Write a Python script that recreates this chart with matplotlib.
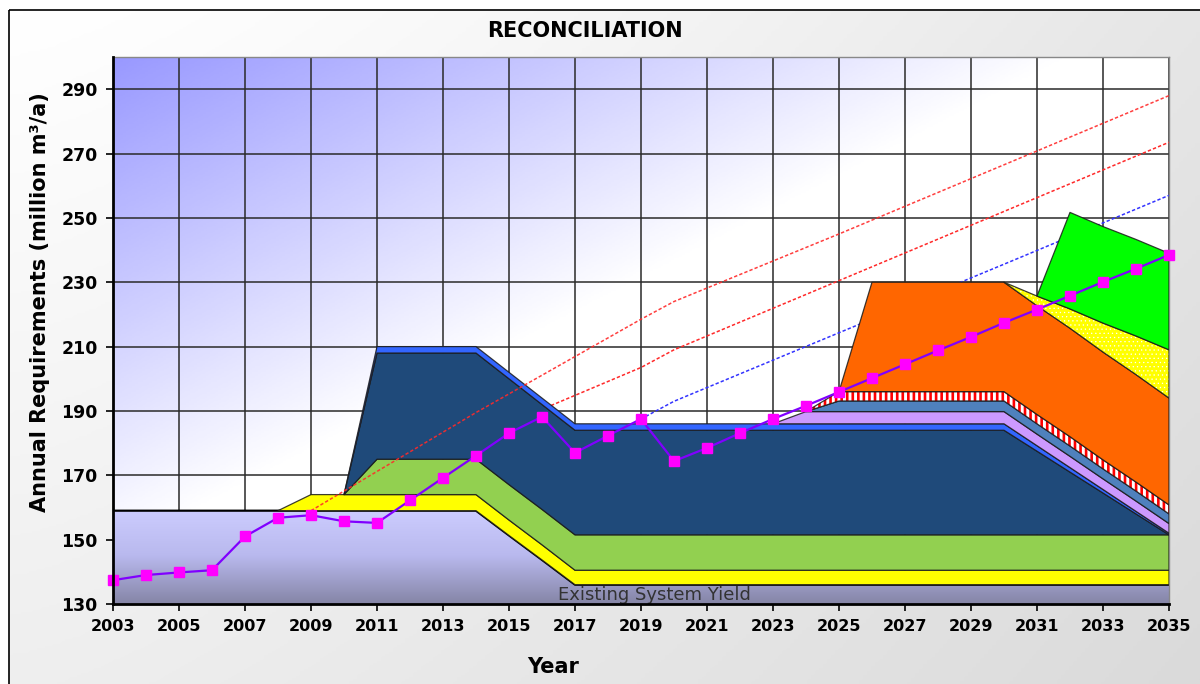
import numpy as np
import matplotlib.pyplot as plt
from matplotlib.colors import LinearSegmentedColormap
from matplotlib.patches import Rectangle

# ---- data ----
years = list(range(2003, 2036))

demand = [137.4, 139.0, 139.8, 140.5, 151.0, 156.8, 157.6, 155.7, 155.2, 162.2,
          169.2, 176.1, 183.1, 188.2, 177.0, 182.3, 187.5, 174.4, 178.5, 183.1,
          187.5, 191.6, 195.9, 200.2, 204.5, 208.8, 213.0, 217.4, 221.5, 225.8,
          230.1, 234.2, 238.5]

existing = [159] * 12 + [151.3, 143.7] + [136] * 19
yellow_band = [0] * 6 + [5] * 6 + [4.8, 4.7] + [4.5] * 19
green_band = [0] * 8 + [11] * 25
navy_band = [0] * 8 + [33, 33, 33, 33, 32.9, 32.6] + [32.5] * 14 + [26, 19.5, 13, 6.5, 0]
blue_band = [0] * 8 + [2] * 20 + [1.7, 1.4, 1.1, 0.8, 0.5]
lavender_band = [0] * 21 + [3.8] * 7 + [3.6, 3.5, 3.3, 3.2, 3.0]
steel_band = [0] * 22 + [3.3] * 6 + [3.2, 3.2, 3.1, 3.1, 3.0]
hatch_band = [0] * 22 + [2.9] * 6 + [2.9, 2.9, 2.8, 2.8, 2.8]
orange_band = [0] * 23 + [34] * 5 + [33.8, 33.7, 33.5, 33.4, 33.2]
dotted_band = [0] * 28 + [3, 6, 9, 12, 15]
lime_band = [0] * 29 + [30] * 4

high_years = [2009, 2014, 2019, 2020, 2025, 2030, 2035]
high_vals = [159, 189.5, 218.5, 224, 245, 266.5, 288]
mid_years = [2014, 2016, 2019, 2020, 2025, 2030, 2035]
mid_vals = [181, 190.5, 203.5, 209, 230.5, 252, 273.5]
low_years = [2019, 2020, 2025, 2030, 2035]
low_vals = [187.5, 193, 214.3, 235.6, 257]

W, H = 1200, 684
fig = plt.figure(figsize=(12, 6.84), dpi=100)

# chart area background with frame
bg = fig.add_axes([0, 0, 1, 1], zorder=-10)
bg.set_xlim(0, W)
bg.set_ylim(H, 0)
bg.axis("off")
gx, gy = np.meshgrid(np.linspace(0, 1, 300), np.linspace(0, 1, 300))
bg_cmap = LinearSegmentedColormap.from_list(
    "bg", [(0, "#ffffff"), (0.55, "#e8e8e8"), (1, "#dadada")])
bg.imshow(0.6 * gx ** 1.4 + 0.4 * gy, cmap=bg_cmap, vmin=0, vmax=1,
          extent=(9, W, H, 9), aspect="auto")
bg.add_patch(Rectangle((9, 10), 1300, 800, fill=False, ec="black", lw=1.2))

# plot area
ax = fig.add_axes([113 / W, 80 / H, 1056 / W, 547 / H])
ax.set_xlim(2003, 2035)
ax.set_ylim(130, 300)

u, v = np.meshgrid(np.linspace(0, 1, 400), np.linspace(0, 1, 300))
pa_cmap = LinearSegmentedColormap.from_list(
    "pa", [(0, "#9999ff"), (0.2, "#c6c6ff"), (0.45, "#ffffff"), (0.7, "#ffffff"), (1, "#e8e8fb")])
ax.imshow(0.5 * u + 0.5 * v, cmap=pa_cmap, vmin=0, vmax=1,
          extent=(2003, 2035, 130, 300), aspect="auto", zorder=0)

ax.set_xticks(range(2003, 2036, 2))
ax.set_yticks(range(130, 300, 20))
ax.set_axisbelow(True)
ax.grid(True, color="#2a2a2a", lw=1.1)

x = np.array(years, dtype=float)

# existing system yield (gradient fill)
base = np.array(existing, dtype=float)
poly = ax.fill_between(x, 0, base, facecolor="none", edgecolor="none", zorder=2)
base_cmap = LinearSegmentedColormap.from_list("base", ["#cdcdff", "#b9b9ee", "#8585a6"])
gimg = ax.imshow(np.linspace(0, 1, 200).reshape(-1, 1), cmap=base_cmap,
                 extent=(2003, 2035, 130, 160), aspect="auto", zorder=2)
gimg.set_clip_path(poly.get_paths()[0], transform=ax.transData)
ax.plot(x, base, color="black", lw=1.6, zorder=2.2)


def band(lo, hi, face, z, hatch=None, hatch_color=None, hlw=1.0):
    thick = hi - lo
    m = thick > 0.01
    m = m | np.r_[m[1:], False] | np.r_[False, m[:-1]]
    ax.fill_between(x, lo, hi, where=m, facecolor=face, edgecolor="none", lw=0, zorder=z)
    if hatch:
        with plt.rc_context({"hatch.linewidth": hlw}):
            ax.fill_between(x, lo, hi, where=m, facecolor="none", edgecolor=hatch_color,
                            hatch=hatch, lw=0, zorder=z + 0.05)
    ax.fill_between(x, lo, hi, where=m, facecolor="none", edgecolor="#1a1a1a",
                    lw=0.9, alpha=0.85, zorder=z + 0.1)


stack = [
    (yellow_band, "#ffff00", None, None, 1),
    (green_band, "#92d050", None, None, 1),
    (navy_band, "#1f4a7a", None, None, 1),
    (blue_band, "#3366ff", None, None, 1),
    (lavender_band, "#cc99ff", None, None, 1),
    (steel_band, "#4f81bd", None, None, 1),
    (hatch_band, "#ffffff", "|||", "#ff0000", 1.9),
    (orange_band, "#ff6600", None, None, 1),
    (dotted_band, "#ffff00", "....", "#ffffff", 0.4),
    (lime_band, "#00ff00", None, None, 1),
]
lo = base.copy()
z = 3
for vals, face, htch, hcol, hlw in stack:
    hi = lo + np.array(vals, dtype=float)
    band(lo, hi, face, z, htch, hcol, hlw)
    lo = hi
    z += 0.2

dash = (0, (2.2, 1.4))
ax.plot(mid_years, mid_vals, color="#ff2a2a", ls=dash, lw=1.1, zorder=1.5)
ax.plot(low_years, low_vals, color="#3333ff", ls=dash, lw=1.1, zorder=1.5)
ax.plot(high_years, high_vals, color="#ff2a2a", ls=dash, lw=1.1, alpha=0.9, zorder=8)
ax.plot(x, demand, color="#8000ff", lw=1.6, marker="s", ms=7,
        mfc="#ff00ff", mec="#ff00ff", zorder=9, clip_on=False)

ax.text(2019.4, 130.1, "Existing System Yield", ha="center", va="bottom",
        fontsize=13, color="#333333", zorder=10)

for s in ["left", "bottom"]:
    ax.spines[s].set_color("black")
    ax.spines[s].set_linewidth(2)
    ax.spines[s].set_zorder(11)
for s in ["top", "right"]:
    ax.spines[s].set_color("#888888")
    ax.spines[s].set_linewidth(1)

ax.tick_params(direction="out", length=5, width=1.2, pad=6)
ax.tick_params(axis="x", labelsize=11.5)
ax.tick_params(axis="y", labelsize=12.5)
for lab in ax.get_xticklabels() + ax.get_yticklabels():
    lab.set_fontweight("bold")

fig.text(585 / W, 1 - 31 / H, "RECONCILIATION", ha="center", va="center",
         fontsize=15, fontweight="bold")
fig.text(40 / W, 1 - 302 / H, "Annual Requirements (million m\u00b3/a)", ha="center",
         va="center", rotation=90, fontsize=15, fontweight="bold")
fig.text(553 / W, 1 - 667 / H, "Year", ha="center", va="center",
         fontsize=15, fontweight="bold")

fig.savefig("out.png", dpi=100)
